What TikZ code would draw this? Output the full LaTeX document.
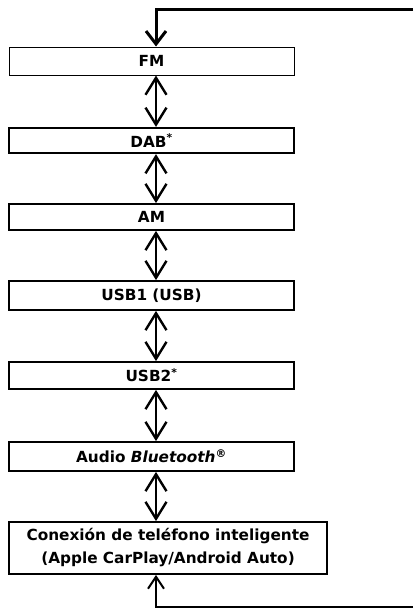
\documentclass[tikz,border=0pt]{standalone}
\usepackage{fontspec}
\setmainfont{DejaVu Sans}
\usetikzlibrary{arrows.meta,calc}
\begin{document}
\begin{tikzpicture}[x=1pt,y=-1pt,
  box/.style={draw, line width=1.8pt, rectangle, inner sep=0pt, minimum width=285pt,
    font=\fontsize{15.3}{23}\selectfont\bfseries, align=center},
  link/.style={line width=2.4pt, {Straight Barb[length=17pt,width=21pt]}-{Straight Barb[length=17pt,width=21pt]}},
  loop/.style={line width=2.4pt, -{Straight Barb[length=13pt,width=20pt]}}]
\useasboundingbox (0,0) rectangle (413,608);
\node[box, line width=1pt, minimum height=28pt] (fm) at (151.5,61) {FM};
\node[box, line width=2.2pt, minimum height=25pt] (dab) at (151.5,140.5) {DAB\textsuperscript{*}};
\node[box, minimum height=26pt] (am) at (151.5,217) {AM};
\node[box, minimum height=29pt] (usb1) at (151.5,295.5) {USB1 (USB)};
\node[box, minimum height=27pt] (usb2) at (151.5,375.5) {USB2\textsuperscript{*}};
\node[box, minimum height=29pt] (bt) at (151.5,456.5) {Audio \textit{Bluetooth}\textsuperscript{®}};
\node[box, minimum width=318pt, minimum height=52pt] (sp) at (168,548) {Conexión de teléfono inteligente\\(Apple CarPlay/Android Auto)};
\coordinate (ax) at (156,0);
\coordinate (tr) at (413,9);
\coordinate (br) at (413,607);
\draw[link] (fm.south -| ax) -- (dab.north -| ax);
\draw[link] (dab.south -| ax) -- (am.north -| ax);
\draw[link] (am.south -| ax) -- (usb1.north -| ax);
\draw[link] (usb1.south -| ax) -- (usb2.north -| ax);
\draw[link] (usb2.south -| ax) -- (bt.north -| ax);
\draw[link] (bt.south -| ax) -- (sp.north -| ax);
\draw[loop, line width=3pt] (tr) -- (tr -| ax) -- (fm.north -| ax);
\draw[loop, line width=2pt, -{Straight Barb[length=12pt,width=16pt]}] (br) -- (br -| ax) -- (sp.south -| ax);
\end{tikzpicture}
\end{document}
